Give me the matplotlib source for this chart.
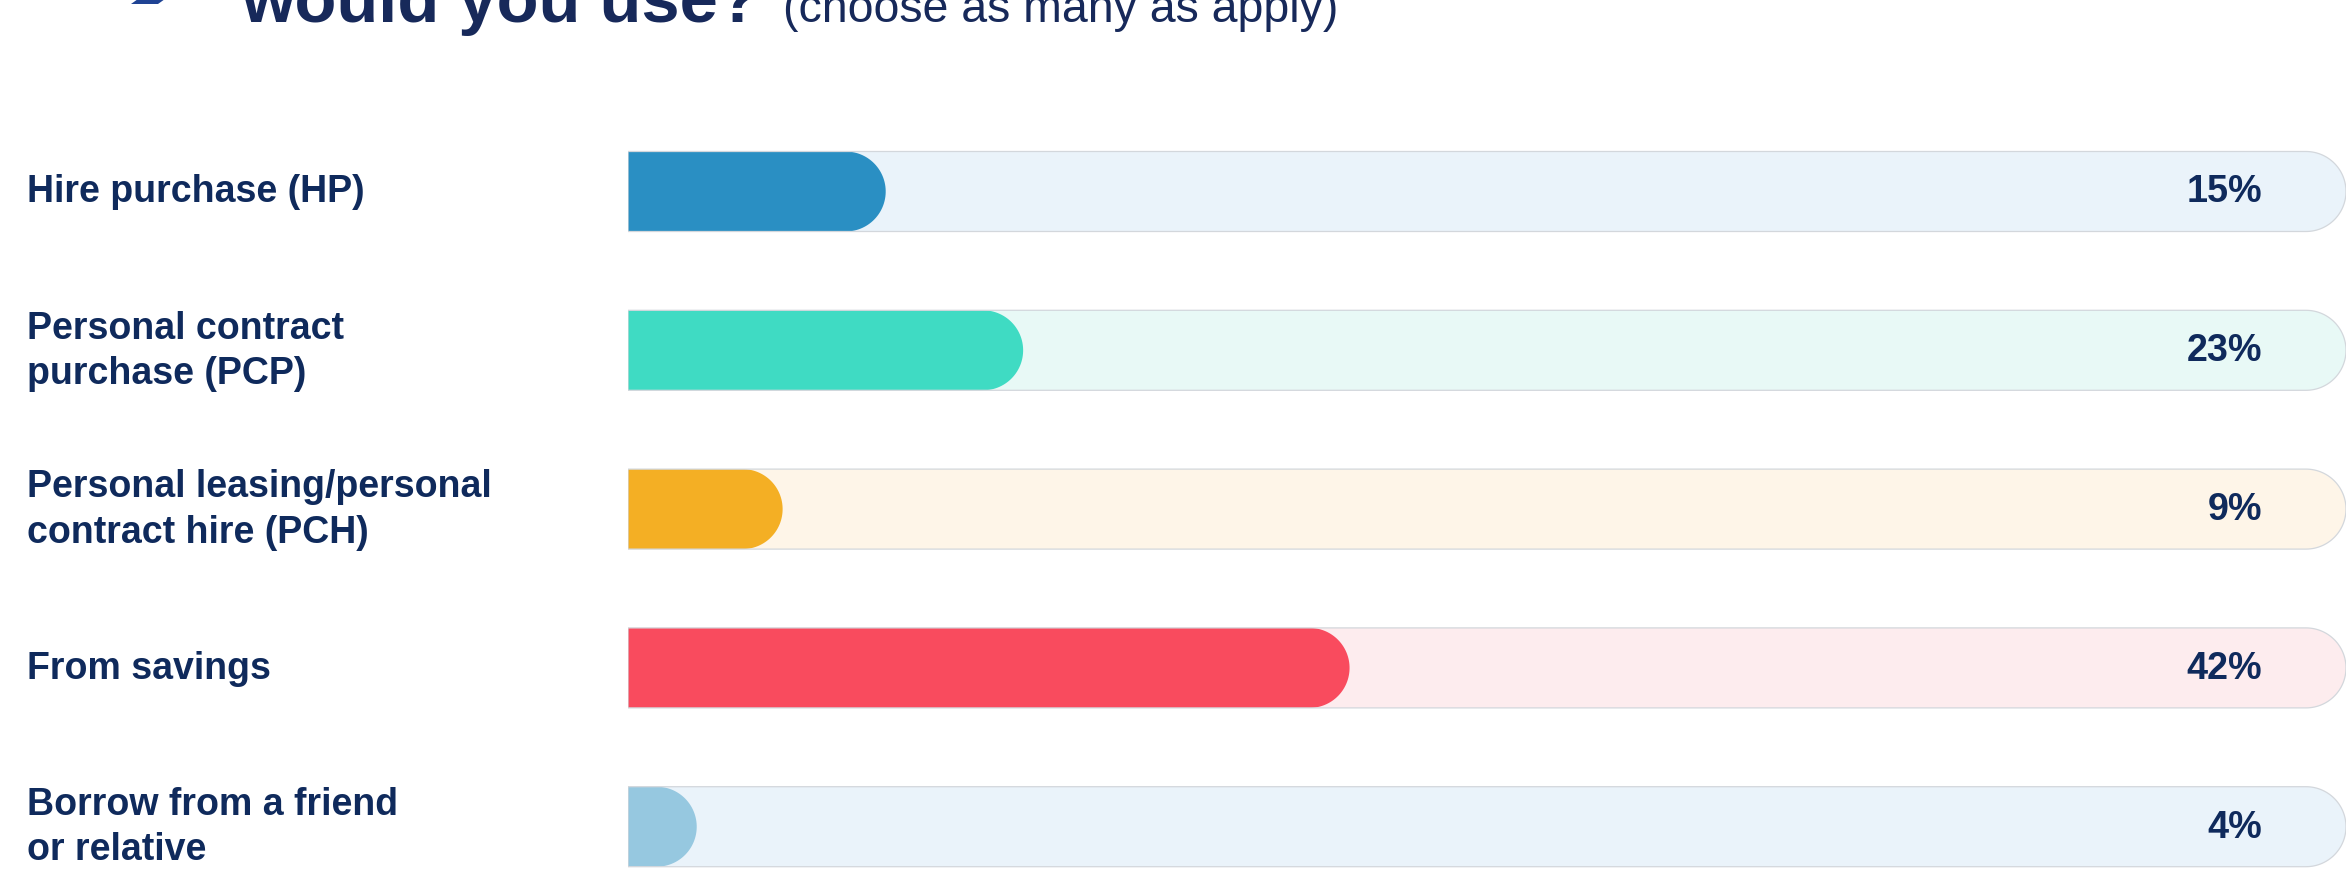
import numpy as np
import matplotlib
matplotlib.use("Agg")
import matplotlib.pyplot as plt
from matplotlib.path import Path
from matplotlib.patches import PathPatch, Polygon
from matplotlib.transforms import blended_transform_factory

# ---- data ----
categories = [
    "Hire purchase (HP)",
    "Personal contract\npurchase (PCP)",
    "Personal leasing/personal\ncontract hire (PCH)",
    "From savings",
    "Borrow from a friend\nor relative",
]
values = [15, 23, 9, 42, 4]
value_labels = ["15%", "23%", "9%", "42%", "4%"]
bar_colors = ["#2A8FC3", "#3FDBC3", "#F4AF24", "#F94B5E", "#96C8E0"]
track_colors = ["#EAF3FA", "#E8F9F6", "#FEF5E8", "#FDECEE", "#EAF3FA"]
title_text = "would you use?"
subtitle_text = "(choose as many as apply)"

NAVY = "#0F2A5C"
FONT = ["Liberation Sans", "DejaVu Sans"]

W, H = 2350, 870
fig = plt.figure(figsize=(W / 100, H / 100), dpi=100)
fig.patch.set_facecolor("white")

ax_left_px, ax_right_px = 628, 2346
ax = fig.add_axes([ax_left_px / W, 0, (ax_right_px - ax_left_px) / W, 1])
ax.set_xlim(0, 100)
row_px0, row_step = 192.5, 158.8
ax.set_ylim((H - row_px0) / row_step, -row_px0 / row_step)
ax.axis("off")

bar_h = 80 / row_step
rx = 40 / (ax_right_px - ax_left_px) * 100


def rounded_right(y, v):
    t = np.linspace(-np.pi / 2, np.pi / 2, 60)
    cx = max(v - rx, 0)
    arc_x = cx + rx * np.cos(t)
    arc_y = y + (bar_h / 2) * np.sin(t)
    verts = [(0, y - bar_h / 2)] + list(zip(arc_x, arc_y)) + [(0, y + bar_h / 2), (0, y - bar_h / 2)]
    codes = [Path.MOVETO] + [Path.LINETO] * (len(verts) - 2) + [Path.CLOSEPOLY]
    return Path(verts, codes)


lab_tr = blended_transform_factory(fig.transFigure, ax.transData)
for i, (cat, v, lbl, bc, tc) in enumerate(zip(categories, values, value_labels, bar_colors, track_colors)):
    ax.add_patch(PathPatch(rounded_right(i, 100), facecolor=tc, edgecolor="none", zorder=1))
    ax.add_patch(PathPatch(rounded_right(i, v), facecolor=bc, edgecolor="none", zorder=2))
    ax.add_patch(PathPatch(rounded_right(i, 100), facecolor="none", edgecolor="#D3D7DC", lw=0.9, zorder=3))
    ax.text(95.1, i, lbl, ha="right", va="center", fontsize=27.2, fontweight="bold",
            color=NAVY, family=FONT, zorder=4)
    ax.text(27 / W, i, cat, transform=lab_tr, ha="left", va="center", fontsize=27,
            fontweight="bold", color=NAVY, family=FONT, linespacing=1.33)

# title (cut off at top)
base_y = 1 - 22 / H
fig.text(241 / W, base_y, title_text, ha="left", va="baseline", fontsize=49.5,
         fontweight="bold", color="#17295A", family=FONT)
fig.text(783 / W, base_y, subtitle_text, ha="left", va="baseline", fontsize=33.5,
         color="#17295A", family=FONT)

# partial icon at top-left
icon = Polygon([(138 / W, 1.0), (165 / W, 1.0), (158 / W, 1 - 5 / H), (131 / W, 1 - 5 / H)],
               closed=True, transform=fig.transFigure, facecolor="#1F4394", edgecolor="none")
fig.patches.append(icon)

fig.savefig("out.png", dpi=100, facecolor="white")
